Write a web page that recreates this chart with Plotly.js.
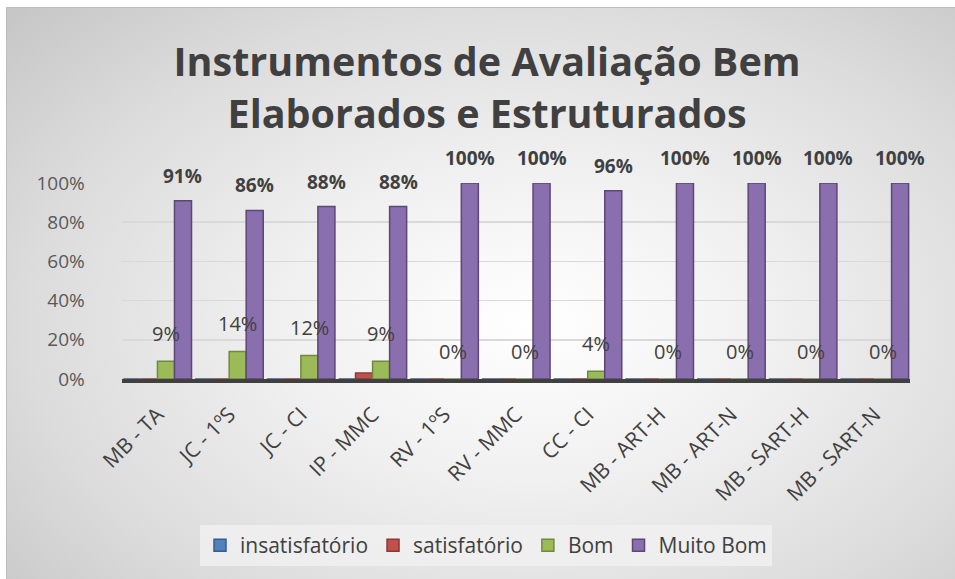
<!DOCTYPE html>
<html>
<head>
<meta charset="utf-8">
<script src="https://cdn.plot.ly/plotly-3.0.1.min.js"></script>
<style>
  html, body { margin: 0; padding: 0; background: #ffffff; }
  #bg {
    position: absolute; left: 6px; top: 7px; width: 949px; height: 572px;
    border-top: 1px solid #bdbdbd; border-left: 1px solid #bdbdbd;
    background: radial-gradient(ellipse 75% 80% at 55% 55%, #ffffff 0%, #f0f0f0 35%, #dcdcdc 70%, #c6c6c6 100%);
  }
  #chart { position: absolute; left: 0; top: 0; width: 955px; height: 579px; }
</style>
</head>
<body>
<div id="bg"></div>
<div id="chart"></div>
<script>
const categories = ['MB - TA', 'JC - 1ºS', 'JC - CI', 'IP - MMC', 'RV - 1ºS', 'RV - MMC', 'CC - CI', 'MB - ART-H', 'MB - ART-N', 'MB - SART-H', 'MB - SART-N'];
const insatisfatorio = [0, 0, 0, 0, 0, 0, 0, 0, 0, 0, 0];
const satisfatorio   = [0, 0, 0, 3, 0, 0, 0, 0, 0, 0, 0];
const bom            = [9, 14, 12, 9, 0, 0, 4, 0, 0, 0, 0];
const muitoBom       = [91, 86, 88, 88, 100, 100, 96, 100, 100, 100, 100];
const yTicks = [0, 20, 40, 60, 80, 100];
const yTickText = yTicks.map(v => v + '%');

const labelColor = '#404040';
const font = "'Open Sans', 'Liberation Sans', sans-serif";

const series = [
  { name: 'insatisfatório', y: insatisfatorio, color: '#4F81BD', line: '#385D8A' },
  { name: 'satisfatório',   y: satisfatorio,   color: '#C0504D', line: '#8C3836' },
  { name: 'Bom',            y: bom,            color: '#9BBB59', line: '#71893F' },
  { name: 'Muito Bom',      y: muitoBom,       color: '#8A6FAE', line: '#5C4776' }
];

const traces = series.map(s => ({
  type: 'bar',
  name: s.name,
  x: categories,
  y: s.y,
  xaxis: 'x', yaxis: 'y',
  marker: { color: s.color, line: { color: s.line, width: 1.5 } },
  hoverinfo: 'skip',
  textposition: 'none',
  cliponaxis: false
}));

// invisible trace that carries the wider (3D floor front edge) category labels
traces.push({
  type: 'scatter', mode: 'markers',
  x: categories, y: muitoBom,
  xaxis: 'x2', yaxis: 'y',
  marker: { opacity: 0 },
  showlegend: false, hoverinfo: 'skip'
});

const marginL = 109, marginR = 33;
const plotW = 955 - marginL - marginR;
const barDomain = [(121.6 - marginL) / plotW, (910.4 - marginL) / plotW];

// Data labels (Bom: regular, Muito Bom: bold), placed over their bars in the group
const nSeries = series.length;
const catWidthPx = (barDomain[1] - barDomain[0]) * plotW / categories.length;
const barPx = catWidthPx * (1 - 0.05) / nSeries;
function barShift(idx) { return (idx - (nSeries - 1) / 2) * barPx; }

const annotations = [];
categories.forEach((c, i) => {
  annotations.push({
    x: c, y: bom[i], xref: 'x', yref: 'y',
    text: bom[i] + '%', showarrow: false,
    xshift: barShift(2), yshift: 28, yanchor: 'middle',
    font: { family: font, size: 20, color: labelColor }
  });
  annotations.push({
    x: c, y: muitoBom[i], xref: 'x', yref: 'y',
    text: '<b>' + muitoBom[i] + '%</b>', showarrow: false,
    xshift: barShift(3), yshift: 25, yanchor: 'middle',
    font: { family: font, size: 19, color: labelColor }
  });
});

const layout = {
  width: 955,
  height: 579,
  paper_bgcolor: 'rgba(0,0,0,0)',
  plot_bgcolor: 'rgba(0,0,0,0)',
  margin: { l: marginL, r: marginR, t: 183, b: 200 },
  barmode: 'group',
  bargap: 0.05,
  bargroupgap: 0,
  font: { family: font, color: labelColor },
  title: {
    text: '<b>Instrumentos de Avaliação Bem<br>Elaborados e Estruturados</b>',
    font: { family: font, size: 39.5, color: '#404040' },
    xref: 'container', yref: 'container',
    x: 0.51, xanchor: 'center',
    y: 0.868, yanchor: 'middle'
  },
  xaxis: {
    type: 'category',
    domain: barDomain,
    anchor: 'y',
    range: [-0.5, categories.length - 0.5],
    showticklabels: false,
    showline: false, ticks: '',
    showgrid: false, zeroline: false
  },
  xaxis2: {
    type: 'category',
    domain: [0, 1],
    anchor: 'y',
    overlaying: 'x',
    side: 'bottom',
    range: [-0.5, categories.length - 0.5],
    tickangle: -45,
    tickfont: { family: font, size: 21, color: labelColor },
    showline: true, linecolor: '#404040', linewidth: 4,
    ticks: 'outside', ticklen: 11, tickcolor: 'rgba(0,0,0,0)',
    showgrid: false, zeroline: false
  },
  yaxis: {
    range: [0, 100],
    anchor: 'x',
    tickvals: yTicks,
    ticktext: yTickText,
    tickfont: { family: font, size: 19, color: '#595959' },
    ticks: 'outside', ticklen: 32, tickcolor: 'rgba(0,0,0,0)',
    showgrid: true, gridcolor: '#d9d9d9', gridwidth: 1.5,
    zeroline: false, showline: false
  },
  legend: {
    orientation: 'h',
    x: (486 - marginL) / plotW, xanchor: 'center',
    y: -0.85, yanchor: 'middle',
    bgcolor: 'rgba(240,240,240,0.85)',
    font: { family: font, size: 21, color: labelColor },
    itemwidth: 30
  },
  annotations: annotations,
  showlegend: true
};

Plotly.newPlot('chart', traces, layout, { displayModeBar: false, staticPlot: true });
</script>
</body>
</html>
